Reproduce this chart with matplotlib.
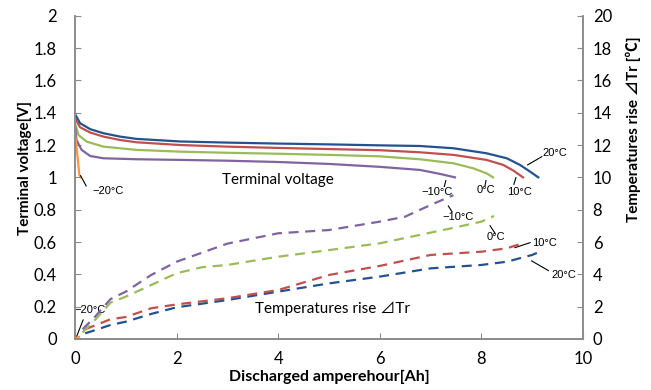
import numpy as np
import matplotlib
matplotlib.use("Agg")
import matplotlib.pyplot as plt

plt.rcParams['font.family'] = ['Lato', 'Noto Sans CJK JP', 'DejaVu Sans']

# --- terminal voltage [V] vs discharged Ah ---
ah_v20 = [0, 0.1, 0.3, 0.56, 0.89, 1.21, 2.07, 3, 4, 5, 6, 6.79, 7.45, 8.1, 8.5, 8.76, 8.96, 9.12]
volt_20 = [1.392, 1.335, 1.298, 1.273, 1.252, 1.238, 1.222, 1.215, 1.209, 1.204, 1.198, 1.194, 1.18, 1.149, 1.118, 1.077, 1.035, 1.0]
ah_v10 = [0, 0.1, 0.3, 0.56, 0.89, 1.21, 2.07, 3, 4, 5, 6, 6.79, 7.45, 8.1, 8.43, 8.63, 8.82]
volt_10 = [1.366, 1.31, 1.277, 1.252, 1.231, 1.217, 1.2, 1.19, 1.182, 1.175, 1.168, 1.155, 1.139, 1.108, 1.077, 1.042, 1.0]
ah_v0 = [0, 0.07, 0.23, 0.56, 1.21, 2.07, 3, 4, 5, 6, 6.79, 7.45, 7.84, 8.1, 8.23]
volt_0 = [1.335, 1.262, 1.221, 1.19, 1.17, 1.159, 1.152, 1.146, 1.139, 1.13, 1.112, 1.087, 1.056, 1.025, 1.0]
ah_vm10 = [0, 0.03, 0.13, 0.3, 0.56, 1.21, 2.07, 3, 4, 5, 6, 6.79, 7.19, 7.48]
volt_m10 = [1.32, 1.231, 1.17, 1.132, 1.118, 1.112, 1.108, 1.103, 1.095, 1.083, 1.065, 1.046, 1.021, 1.0]
ah_vm20 = [0, 0.05, 0.085, 0.11]
volt_m20 = [1.273, 1.128, 1.015, 1.0]

# --- temperature rise [degC] vs discharged Ah ---
ah_t20 = [0.2, 0.4, 0.7, 1, 1.5, 2, 3, 4, 5, 6, 7, 8, 8.5, 9, 9.15]
temp_20 = [0.35, 0.55, 0.87, 1.07, 1.55, 1.96, 2.41, 2.93, 3.44, 3.86, 4.37, 4.58, 4.78, 5.2, 5.4]
ah_t10 = [0.2, 0.4, 0.7, 1, 1.5, 2, 3, 4, 5, 6, 7, 7.5, 8, 8.5, 8.85]
temp_10 = [0.6, 0.85, 1.22, 1.36, 1.9, 2.14, 2.52, 3.03, 3.96, 4.52, 5.2, 5.3, 5.4, 5.61, 5.96]
ah_t0 = [0.15, 0.4, 0.7, 1, 1.5, 2, 2.5, 3, 4, 5, 6, 7, 7.5, 8, 8.25]
temp_0 = [0.4, 1.2, 2.25, 2.62, 3.34, 4.07, 4.44, 4.58, 5.09, 5.5, 5.92, 6.58, 6.91, 7.26, 7.61]
ah_tm10 = [0.15, 0.4, 0.7, 1, 1.5, 2, 3, 4, 5, 6, 6.5, 7, 7.45]
temp_m10 = [0.6, 1.4, 2.47, 2.93, 3.96, 4.78, 5.9, 6.54, 6.74, 7.26, 7.57, 8.29, 8.9]
ah_tm20 = [0, 0.1]
temp_m20 = [0.05, 0.15]

C20, C10, C0, CM10, CM20 = '#24528F', '#C0504D', '#9BBB59', '#8064A2', '#F79646'

fig = plt.figure(figsize=(6.51, 3.90), dpi=100)
ax1 = fig.add_axes([0.1152, 0.1308, 0.7803, 0.8289])
ax2 = ax1.twinx()

lw = 1.6
ax1.plot(ah_v20, volt_20, color=C20, lw=lw)
ax1.plot(ah_v10, volt_10, color=C10, lw=lw)
ax1.plot(ah_v0, volt_0, color=C0, lw=lw)
ax1.plot(ah_vm10, volt_m10, color=CM10, lw=lw)
ax1.plot(ah_vm20, volt_m20, color=CM20, lw=lw)

dash = (4.5, 3)
ax2.plot(ah_t20, temp_20, color=C20, lw=lw, dashes=dash)
ax2.plot(ah_t10, temp_10, color=C10, lw=lw, dashes=dash)
ax2.plot(ah_t0, temp_0, color=C0, lw=lw, dashes=dash)
ax2.plot(ah_tm10, temp_m10, color=CM10, lw=lw, dashes=dash)
ax2.plot(ah_tm20, temp_m20, color=CM20, lw=lw, dashes=dash)

ax1.set_xlim(0, 10)
ax1.set_ylim(0, 2)
ax2.set_ylim(0, 20)
ax1.set_xticks(np.arange(0, 11, 2))
ax1.set_yticks(np.arange(0, 2.01, 0.2))
ax1.set_yticklabels(['0', '0.2', '0.4', '0.6', '0.8', '1', '1.2', '1.4', '1.6', '1.8', '2'])
ax2.set_yticks(np.arange(0, 21, 2))

spine_c = '#8C8C8C'
for ax in (ax1, ax2):
    ax.spines['top'].set_visible(False)
    for s in ('left', 'right', 'bottom'):
        ax.spines[s].set_color(spine_c)
        ax.spines[s].set_linewidth(1.2)
ax1.tick_params(axis='y', direction='in', length=4, color=spine_c, labelsize=12, pad=13)
ax1.tick_params(axis='x', direction='in', length=4, color=spine_c, labelsize=12, pad=9)
ax2.tick_params(axis='y', direction='in', length=4, color=spine_c, labelsize=12, pad=7)

ax1.set_xlabel('Discharged amperehour[Ah]', fontsize=11.5, fontweight='bold')
ax1.xaxis.set_label_coords(0.5, -0.097)
ax1.set_ylabel('Terminal voltage[V]', fontsize=11, fontweight='bold')
ax1.yaxis.set_label_coords(-0.085, 0.53)
ax2.set_ylabel('Temperatures rise \u22bfTr [\u2103]', fontsize=11, fontweight='bold')
ax2.yaxis.set_label_coords(1.085, 0.65)

ax1.text(3.99, 0.984, 'Terminal voltage', fontsize=11, ha='center', va='center')
ax1.text(5.06, 0.19, 'Temperatures rise \u22bfTr', fontsize=11, ha='center', va='center')

# small labels with leader lines (voltage-axis coordinates)
lab_font = dict(fontsize=8, family=['Liberation Sans', 'DejaVu Sans'])
notes = [
    ('\u221220\u00b0C', (0.11, 1.01), (0.22, 0.947), (0.65, 0.916)),
    ('20\u00b0C', (8.91, 1.077), (9.19, 1.128), (9.44, 1.153)),
    ('10\u00b0C', (8.68, 0.998), (8.64, 0.957), (8.76, 0.908)),
    ('0\u00b0C', (8.09, 0.98), (8.07, 0.946), (8.09, 0.922)),
    ('\u221210\u00b0C', (7.3, 0.98), (7.27, 0.943), (7.12, 0.908)),
    ('\u221210\u00b0C', (7.35, 0.823), (7.42, 0.788), (7.54, 0.757)),
    ('0\u00b0C', (8.17, 0.701), (8.27, 0.654), (8.29, 0.629)),
    ('10\u00b0C', (8.66, 0.565), (8.96, 0.596), (9.25, 0.596)),
    ('20\u00b0C', (8.99, 0.483), (9.32, 0.423), (9.62, 0.396)),
    ('\u221220\u00b0C', (0.02, 0.006), (0.16, 0.118), (0.3, 0.18)),
]
for txt, p0, p1, pt in notes:
    ax1.plot([p0[0], p1[0]], [p0[1], p1[1]], color='black', lw=0.8)
    ax1.text(pt[0], pt[1], txt, ha='center', va='center', **lab_font)

fig.savefig('out.png', dpi=100)
